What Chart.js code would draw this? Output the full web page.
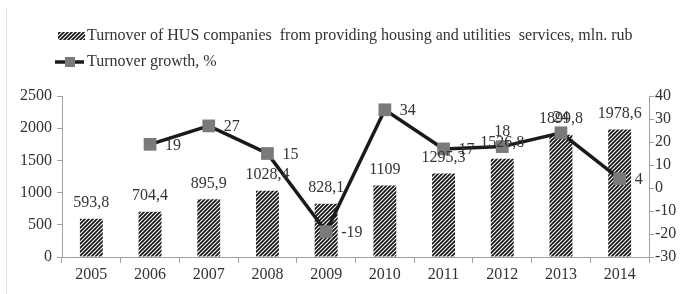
<!DOCTYPE html>
<html>
<head>
<meta charset="utf-8">
<script src="https://cdn.jsdelivr.net/npm/chart.js@4.4.1/dist/chart.umd.min.js"></script>
<style>
html,body{margin:0;padding:0;background:#fff;}
#wrap{width:682px;height:294px;}
</style>
</head>
<body>
<div id="wrap"><canvas id="c" width="682" height="294"></canvas></div>
<script>
const years = ['2005','2006','2007','2008','2009','2010','2011','2012','2013','2014'];
const turnover = [593.8, 704.4, 895.9, 1028.4, 828.1, 1109, 1295.3, 1526.8, 1899.8, 1978.6];
const growth = [null, 19, 27, 15, -19, 34, 17, 18, 24, 4];
const growthLabelPos = [null, 'right', 'right', 'right', 'right', 'right', 'right', 'above', 'above', 'right'];
const leftTicks = [0, 500, 1000, 1500, 2000, 2500];
const rightTicks = [-30, -20, -10, 0, 10, 20, 30, 40];
const barLabel = 'Turnover of HUS companies  from providing housing and utilities  services, mln. rub';
const lineLabel = 'Turnover growth, %';

const FONT = '"Liberation Serif", "DejaVu Serif", serif';
const TXT = '#333333';

function makeHatch() {
  const s = 4;
  const c = document.createElement('canvas');
  c.width = s; c.height = s;
  const g = c.getContext('2d');
  g.fillStyle = '#ffffff';
  g.fillRect(0, 0, s, s);
  g.strokeStyle = '#111111';
  g.lineWidth = 1.7;
  g.beginPath();
  g.moveTo(-1, s + 1); g.lineTo(s + 1, -1);
  g.moveTo(-1, 1); g.lineTo(1, -1);
  g.moveTo(s - 1, s + 1); g.lineTo(s + 1, s - 1);
  g.stroke();
  return document.getElementById('c').getContext('2d').createPattern(c, 'repeat');
}
const hatch = makeHatch();

function fmt(v) { return String(v).replace('.', ','); }

const labelsPlugin = {
  id: 'labelsPlugin',
  beforeDraw(chart) {
    const ctx = chart.ctx;
    ctx.save();
    ctx.strokeStyle = '#e4e4e4';
    ctx.lineWidth = 1;
    ctx.beginPath();
    ctx.moveTo(6.5, 8); ctx.lineTo(6.5, 294);
    ctx.stroke();
    ctx.restore();
  },
  afterDatasetsDraw(chart) {
    const ctx = chart.ctx;
    ctx.save();
    ctx.font = '16px ' + FONT;
    ctx.fillStyle = TXT;
    ctx.textBaseline = 'middle';
    const barMeta = chart.getDatasetMeta(1);
    barMeta.data.forEach((el, i) => {
      ctx.textAlign = 'center';
      ctx.fillText(fmt(turnover[i]), el.x, el.y - 16);
    });
    const lineMeta = chart.getDatasetMeta(0);
    lineMeta.data.forEach((el, i) => {
      if (growth[i] === null) return;
      if (growthLabelPos[i] === 'above') {
        ctx.textAlign = 'center';
        ctx.fillText(String(growth[i]), el.x, el.y - 15);
      } else {
        ctx.textAlign = 'left';
        ctx.fillText(String(growth[i]), el.x + 15, el.y + 1);
      }
    });
    ctx.restore();
  },
  afterDraw(chart) {
    const ctx = chart.ctx;
    ctx.save();
    ctx.font = '16px ' + FONT;
    ctx.fillStyle = TXT;
    ctx.textBaseline = 'middle';
    ctx.textAlign = 'left';
    ctx.fillStyle = hatch;
    ctx.fillRect(58, 32, 27, 8);
    ctx.fillStyle = TXT;
    ctx.fillText(barLabel, 87, 36);
    ctx.strokeStyle = '#1a1a1a';
    ctx.lineWidth = 3.5;
    ctx.beginPath();
    ctx.moveTo(55, 62); ctx.lineTo(84, 62);
    ctx.stroke();
    ctx.fillStyle = '#7a7a7a';
    ctx.fillRect(65, 57, 10, 10);
    ctx.fillStyle = TXT;
    ctx.fillText(lineLabel, 87, 62);
    ctx.restore();
  }
};

new Chart(document.getElementById('c'), {
  data: {
    labels: years,
    datasets: [
      {
        type: 'line',
        label: lineLabel,
        data: growth,
        yAxisID: 'y1',
        borderColor: '#1a1a1a',
        borderWidth: 3.5,
        pointStyle: 'rect',
        pointRadius: 9,
        pointBackgroundColor: '#7a7a7a',
        pointBorderColor: '#7a7a7a',
        pointBorderWidth: 0,
        tension: 0,
        spanGaps: false,
        order: 0
      },
      {
        type: 'bar',
        label: barLabel,
        data: turnover,
        yAxisID: 'y',
        backgroundColor: hatch,
        borderWidth: 0,
        barPercentage: 0.39,
        categoryPercentage: 1,
        order: 1
      }
    ]
  },
  options: {
    responsive: false,
    animation: false,
    events: [],
    layout: { padding: { top: 96, left: 0, right: 0, bottom: 0 } },
    plugins: { legend: { display: false }, tooltip: { enabled: false } },
    scales: {
      x: {
        offset: true,
        grid: { display: true, offset: true, drawOnChartArea: false, tickLength: 6, color: '#a0a0a0' },
        border: { display: true, color: '#a0a0a0' },
        ticks: { color: TXT, font: { family: FONT, size: 16 }, padding: 2, maxRotation: 0 },
        afterFit(s) { s.height = 37; }
      },
      y: {
        position: 'left',
        min: 0, max: 2500,
        afterBuildTicks(s) { s.ticks = leftTicks.map(v => ({ value: v })); },
        grid: { display: true, drawOnChartArea: false, tickLength: 5, color: '#a0a0a0' },
        border: { display: true, color: '#a0a0a0' },
        ticks: { color: TXT, font: { family: FONT, size: 16 }, padding: 5, callback: v => String(v) },
        afterFit(s) { s.width = 62; }
      },
      y1: {
        position: 'right',
        min: -30, max: 40,
        afterBuildTicks(s) { s.ticks = rightTicks.map(v => ({ value: v })); },
        grid: { display: true, drawOnChartArea: false, tickLength: 5, color: '#a0a0a0' },
        border: { display: true, color: '#a0a0a0' },
        ticks: { color: TXT, font: { family: FONT, size: 16 }, padding: 1, callback: v => String(v) },
        afterFit(s) { s.width = 33; }
      }
    }
  },
  plugins: [labelsPlugin]
});
</script>
</body>
</html>
